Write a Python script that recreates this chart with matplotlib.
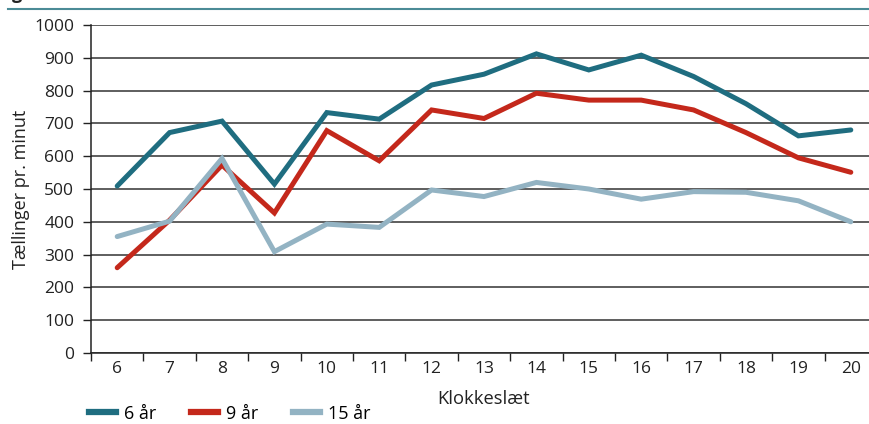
import matplotlib.pyplot as plt
from matplotlib.lines import Line2D

plt.rcParams['font.family'] = ['Open Sans', 'DejaVu Sans']

# data
hours = ["6", "7", "8", "9", "10", "11", "12", "13", "14", "15", "16", "17", "18", "19", "20"]
age6 = [509, 672, 707, 515, 733, 713, 817, 850, 912, 863, 908, 843, 760, 662, 680]
age9 = [260, 405, 573, 427, 678, 586, 741, 715, 792, 771, 771, 741, 672, 595, 551]
age15 = [355, 402, 593, 309, 393, 383, 497, 477, 520, 500, 469, 492, 490, 464, 400]
series_names = ["6 år", "9 år", "15 år"]
colors = ["#1f6d80", "#c4281b", "#93b3c3"]

fig = plt.figure(figsize=(8.69, 4.24), dpi=100)
ax = fig.add_axes([91/869, 71/424, 786/869, 328/424])

x = range(len(hours))
for vals, c in zip([age6, age9, age15], colors):
    ax.plot(x, vals, color=c, linewidth=3.6, solid_capstyle='round', solid_joinstyle='miter', zorder=3)

ax.set_xlim(-0.5, len(hours) - 0.5)
ax.set_ylim(0, 1000)
ax.set_yticks(range(0, 1001, 100))
ax.set_xticks(x)
ax.set_xticklabels(hours)
ax.set_xticks([i - 0.5 for i in range(len(hours) + 1)], minor=True)
ax.tick_params(axis='x', which='major', length=0, pad=6, labelsize=12.5, colors='#222222')
ax.tick_params(axis='x', which='minor', length=6, width=1, direction='out', color='#222222')
ax.tick_params(axis='y', length=6, width=1, direction='out', pad=6, labelsize=12.5, color='#222222', labelcolor='#222222')
ax.grid(axis='y', color='#333333', linewidth=1.1, zorder=1)
ax.set_axisbelow(True)
for s in ['top', 'right']:
    ax.spines[s].set_visible(False)
for s in ['left', 'bottom']:
    ax.spines[s].set_color('#222222')
    ax.spines[s].set_linewidth(1.1)

ax.set_xlabel("Klokkeslæt", fontsize=13.2, color='#222222', labelpad=9)
ax.set_ylabel("Tællinger pr. minut", fontsize=13, color='#222222', labelpad=3)

handles = [Line2D([0], [0], color=c, linewidth=4.5) for c in colors]
fig.legend(handles, series_names, loc='lower left', bbox_to_anchor=(73/869, -0.035), ncol=3,
           frameon=False, fontsize=13, handlelength=1.5, handletextpad=0.45, columnspacing=1.9)

# header rule and clipped title at the top
fig.add_artist(Line2D([8/869, 1], [1 - 9/424, 1 - 9/424], color='#4b8b96', linewidth=1.5))
fig.text(12/869, 1 + 1/424, "g", fontsize=13, fontweight='bold', va='baseline', color='#222222')

fig.savefig("out.png", dpi=100)
